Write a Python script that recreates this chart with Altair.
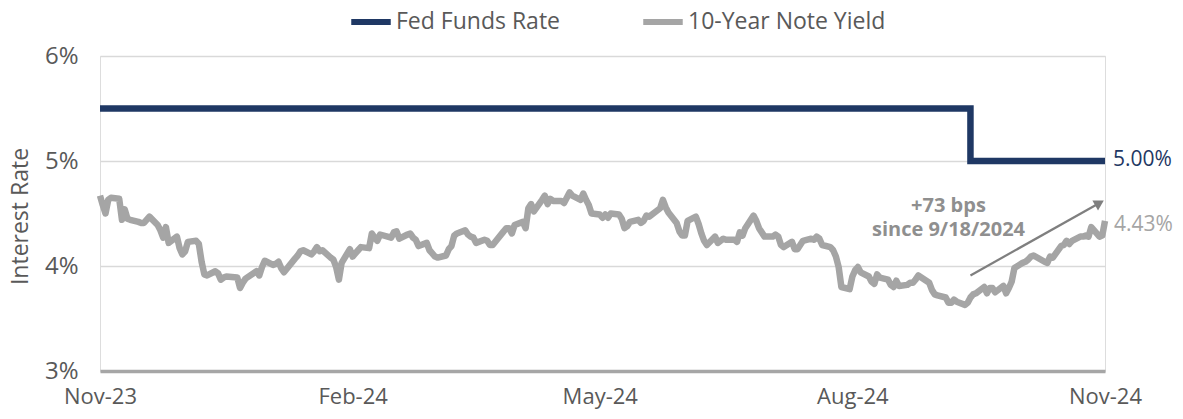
import altair as alt
import pandas as pd

# ---------------- data ----------------
yield_dates = [
    "2023-11-06", "2023-11-07", "2023-11-08", "2023-11-09", "2023-11-10", "2023-11-13", "2023-11-14",
    "2023-11-15", "2023-11-16", "2023-11-17", "2023-11-20", "2023-11-21", "2023-11-22", "2023-11-24",
    "2023-11-27", "2023-11-28", "2023-11-29", "2023-11-30",
    "2023-12-01", "2023-12-04", "2023-12-05", "2023-12-06", "2023-12-07", "2023-12-08", "2023-12-11",
    "2023-12-12", "2023-12-13", "2023-12-14", "2023-12-15", "2023-12-18", "2023-12-19", "2023-12-20",
    "2023-12-21", "2023-12-22", "2023-12-26", "2023-12-27", "2023-12-28", "2023-12-29",
    "2024-01-02", "2024-01-03", "2024-01-04", "2024-01-05", "2024-01-08", "2024-01-09", "2024-01-10",
    "2024-01-11", "2024-01-12", "2024-01-16", "2024-01-17", "2024-01-18", "2024-01-19", "2024-01-22",
    "2024-01-23", "2024-01-24", "2024-01-25", "2024-01-26", "2024-01-29", "2024-01-30", "2024-01-31",
    "2024-02-01", "2024-02-02", "2024-02-05", "2024-02-06", "2024-02-07", "2024-02-08", "2024-02-09",
    "2024-02-12", "2024-02-13", "2024-02-14", "2024-02-15", "2024-02-16", "2024-02-20", "2024-02-21",
    "2024-02-22", "2024-02-23", "2024-02-26", "2024-02-27", "2024-02-28", "2024-02-29",
    "2024-03-01", "2024-03-04", "2024-03-05", "2024-03-06", "2024-03-07", "2024-03-08", "2024-03-11",
    "2024-03-12", "2024-03-13", "2024-03-14", "2024-03-15", "2024-03-18", "2024-03-19", "2024-03-20",
    "2024-03-21", "2024-03-22", "2024-03-25", "2024-03-26", "2024-03-27", "2024-03-28",
    "2024-04-01", "2024-04-02", "2024-04-03", "2024-04-04", "2024-04-05", "2024-04-08", "2024-04-09",
    "2024-04-10", "2024-04-11", "2024-04-12", "2024-04-15", "2024-04-16", "2024-04-17", "2024-04-18",
    "2024-04-19", "2024-04-22", "2024-04-23", "2024-04-24", "2024-04-25", "2024-04-26", "2024-04-29",
    "2024-04-30",
    "2024-05-01", "2024-05-02", "2024-05-03", "2024-05-06", "2024-05-07", "2024-05-08", "2024-05-09",
    "2024-05-10", "2024-05-13", "2024-05-14", "2024-05-15", "2024-05-16", "2024-05-17", "2024-05-20",
    "2024-05-21", "2024-05-22", "2024-05-23", "2024-05-24", "2024-05-28", "2024-05-29", "2024-05-30",
    "2024-05-31",
    "2024-06-03", "2024-06-04", "2024-06-05", "2024-06-06", "2024-06-07", "2024-06-10", "2024-06-11",
    "2024-06-12", "2024-06-13", "2024-06-14", "2024-06-17", "2024-06-18", "2024-06-20", "2024-06-21",
    "2024-06-24", "2024-06-25", "2024-06-26", "2024-06-27", "2024-06-28",
    "2024-07-01", "2024-07-02", "2024-07-03", "2024-07-05", "2024-07-08", "2024-07-09", "2024-07-10",
    "2024-07-11", "2024-07-12", "2024-07-15", "2024-07-16", "2024-07-17", "2024-07-18", "2024-07-19",
    "2024-07-22", "2024-07-23", "2024-07-24", "2024-07-25", "2024-07-26", "2024-07-29", "2024-07-30",
    "2024-07-31",
    "2024-08-01", "2024-08-02", "2024-08-05", "2024-08-06", "2024-08-07", "2024-08-08", "2024-08-09",
    "2024-08-12", "2024-08-13", "2024-08-14", "2024-08-15", "2024-08-16", "2024-08-19", "2024-08-20",
    "2024-08-21", "2024-08-22", "2024-08-23", "2024-08-26", "2024-08-27", "2024-08-28", "2024-08-29",
    "2024-08-30",
    "2024-09-03", "2024-09-04", "2024-09-05", "2024-09-06", "2024-09-09", "2024-09-10", "2024-09-11",
    "2024-09-12", "2024-09-13", "2024-09-16", "2024-09-17", "2024-09-18", "2024-09-19", "2024-09-20",
    "2024-09-23", "2024-09-24", "2024-09-25", "2024-09-26", "2024-09-27", "2024-09-30",
    "2024-10-01", "2024-10-02", "2024-10-03", "2024-10-04", "2024-10-07", "2024-10-08", "2024-10-09",
    "2024-10-10", "2024-10-11", "2024-10-15", "2024-10-16", "2024-10-17", "2024-10-18", "2024-10-21",
    "2024-10-22", "2024-10-23", "2024-10-24", "2024-10-25", "2024-10-28", "2024-10-29", "2024-10-30",
    "2024-10-31",
    "2024-11-01", "2024-11-04", "2024-11-05", "2024-11-06",
]
yield_values = [
    4.67, 4.58, 4.50, 4.63, 4.65, 4.64, 4.44, 4.54, 4.45, 4.44, 4.42, 4.41, 4.41, 4.47, 4.39, 4.34, 4.27, 4.37,
    4.22, 4.28, 4.17, 4.11, 4.14, 4.23, 4.24, 4.21, 4.04, 3.92, 3.91, 3.95, 3.93, 3.87, 3.89, 3.90, 3.89, 3.79,
    3.84, 3.88,
    3.95, 3.91, 3.99, 4.05, 4.01, 4.02, 4.04, 3.98, 3.94, 4.07, 4.10, 4.14, 4.15, 4.11, 4.14, 4.18, 4.14, 4.15,
    4.08, 4.06, 3.99,
    3.87, 4.03, 4.16, 4.09, 4.12, 4.15, 4.18, 4.17, 4.31, 4.27, 4.24, 4.30, 4.27, 4.32, 4.33, 4.26, 4.30, 4.31,
    4.27, 4.25,
    4.19, 4.22, 4.15, 4.12, 4.09, 4.08, 4.10, 4.16, 4.19, 4.29, 4.31, 4.34, 4.30, 4.28, 4.27, 4.22, 4.25, 4.24,
    4.20, 4.20,
    4.33, 4.36, 4.36, 4.31, 4.39, 4.42, 4.36, 4.55, 4.59, 4.52, 4.63, 4.67, 4.59, 4.64, 4.62, 4.62, 4.60, 4.65,
    4.70, 4.67, 4.63, 4.69,
    4.63, 4.58, 4.50, 4.49, 4.46, 4.49, 4.46, 4.50, 4.49, 4.45, 4.36, 4.38, 4.42, 4.44, 4.41, 4.43, 4.48, 4.47,
    4.55, 4.63, 4.56, 4.51,
    4.41, 4.33, 4.29, 4.29, 4.43, 4.47, 4.40, 4.31, 4.24, 4.20, 4.28, 4.22, 4.26, 4.25, 4.25, 4.23, 4.32, 4.29,
    4.36,
    4.48, 4.43, 4.36, 4.28, 4.28, 4.30, 4.28, 4.20, 4.18, 4.23, 4.16, 4.16, 4.20, 4.24, 4.26, 4.25, 4.28, 4.26,
    4.20, 4.18, 4.15, 4.09,
    3.99, 3.80, 3.78, 3.90, 3.96, 3.99, 3.94, 3.90, 3.85, 3.83, 3.92, 3.89, 3.87, 3.82, 3.80, 3.86, 3.81, 3.82,
    3.84, 3.84, 3.87, 3.91,
    3.84, 3.77, 3.73, 3.72, 3.70, 3.65, 3.65, 3.68, 3.66, 3.63, 3.65, 3.70, 3.73, 3.74, 3.80, 3.74, 3.79, 3.79,
    3.75, 3.81,
    3.74, 3.79, 3.85, 3.98, 4.03, 4.04, 4.06, 4.09, 4.10, 4.04, 4.03, 4.09, 4.08, 4.19, 4.20, 4.24, 4.21, 4.24,
    4.28, 4.28, 4.29, 4.28,
    4.37, 4.28, 4.29, 4.43,
]

fed_dates = ["2023-11-06", "2024-09-18", "2024-11-06"]
fed_values = [5.50, 5.00, 5.00]

series_names = ["Fed Funds Rate", "10-Year Note Yield"]
series_colors = ["#1F3864", "#A5A5A5"]

x_domain = [(2023, 11, 6), (2024, 11, 6)]
x_ticks = [(2023, 11, 6), (2024, 2, 6), (2024, 5, 6), (2024, 8, 6), (2024, 11, 6)]
y_domain = [3, 6]
y_ticks = [3, 4, 5, 6]

annotation_lines = ["+73 bps", "since 9/18/2024"]
annotation_date = ["2024-09-10"]
annotation_value = [4.57]

arrow_dates = ["2024-09-18", "2024-11-04"]
arrow_values = [3.91, 4.60]

# ---------------- frames ----------------
yield_df = pd.DataFrame({"date": yield_dates, "value": yield_values, "series": series_names[1]})
fed_df = pd.DataFrame({"date": fed_dates, "value": fed_values, "series": series_names[0]})
fed_end = pd.DataFrame({"date": [fed_dates[-1]], "value": [fed_values[-1]],
                        "label": [f"{fed_values[-1]:.2f}%"]})
yield_end = pd.DataFrame({"date": [yield_dates[-1]], "value": [yield_values[-1]],
                          "label": [f"{yield_values[-1]:.2f}%"]})
annot_df = pd.DataFrame({"date": annotation_date, "value": annotation_value})
arrow_df = pd.DataFrame({"date": arrow_dates, "value": arrow_values})
head_df = arrow_df.tail(1)

FONT = "Open Sans"
TXT = "#595959"


def dt(t):
    return alt.DateTime(year=t[0], month=t[1], date=t[2], utc=True)


x_enc = alt.X(
    "date:T",
    title="",
    scale=alt.Scale(type="utc", domain=[dt(d) for d in x_domain]),
    axis=alt.Axis(
        values=[dt(d) for d in x_ticks], labelExpr="utcFormat(datum.value, '%b-%y')",
        labelFont=FONT, labelFontSize=22, labelColor=TXT, labelPadding=15,
        ticks=False, grid=False, domainColor="#A6A6A6", domainWidth=3.5,
        labelFlush=False, labelOverlap=False,
    ),
)
y_enc = alt.Y(
    "value:Q",
    title="Interest Rate",
    scale=alt.Scale(domain=y_domain, nice=False, zero=False),
    axis=alt.Axis(
        values=y_ticks, labelExpr="datum.value + '%'",
        labelFont=FONT, labelFontSize=24, labelColor=TXT, labelPadding=22,
        ticks=False, domain=False, grid=True, gridColor="#D9D9D9", gridWidth=1.3,
        titleFont=FONT, titleFontSize=23, titleFontWeight="normal", titleColor=TXT,
        titleAngle=270, titleX=-80, titleY=160, titleAlign="center", titleBaseline="middle",
    ),
)
color_enc = alt.Color(
    "series:N",
    scale=alt.Scale(domain=series_names, range=series_colors),
    legend=alt.Legend(
        title=None, orient="none", legendX=248, legendY=-57, direction="horizontal",
        symbolType="stroke", symbolStrokeWidth=6, symbolSize=1560,
        labelFont=FONT, labelFontSize=23, labelColor=TXT, labelOffset=2,
        columnPadding=70, labelLimit=400,
    ),
)

fed_line = alt.Chart(fed_df).mark_line(strokeWidth=6.5, interpolate="step-after").encode(
    x=x_enc, y=y_enc, color=color_enc)
yield_line = alt.Chart(yield_df).mark_line(strokeWidth=6.5, strokeJoin="round").encode(
    x=x_enc, y=y_enc, color=color_enc)

fed_lbl = alt.Chart(fed_end).mark_text(
    align="left", baseline="middle", dx=8, dy=-1, font=FONT, fontSize=21, color=series_colors[0]
).encode(x=x_enc, y=y_enc, text="label:N")
yield_lbl = alt.Chart(yield_end).mark_text(
    align="left", baseline="middle", dx=9, dy=4, font=FONT, fontSize=21, color=series_colors[1]
).encode(x=x_enc, y=y_enc, text="label:N")

annot = alt.Chart(annot_df).mark_text(
    text=annotation_lines, align="center", baseline="middle", lineHeight=24,
    font=FONT, fontSize=20, fontWeight="bold", color="#8F8F8F",
).encode(x=x_enc, y=y_enc)

arrow = alt.Chart(arrow_df).mark_line(color="#7F7F7F", strokeWidth=2.2).encode(x=x_enc, y=y_enc)
head = alt.Chart(head_df).mark_point(
    shape="triangle-right", filled=True, size=130, angle=330.5, color="#7F7F7F", opacity=1
).encode(x=x_enc, y=y_enc)

chart = alt.layer(yield_line, fed_line, fed_lbl, yield_lbl, annot, arrow, head).properties(
    width=1005, height=315,
    autosize=alt.AutoSizeParams(type="none"),
    padding={"left": 92, "top": 48, "right": 70, "bottom": 40},
).configure_view(stroke="transparent").configure(font=FONT)

chart.save("out.html", embed_options={"renderer": "svg", "actions": False})
